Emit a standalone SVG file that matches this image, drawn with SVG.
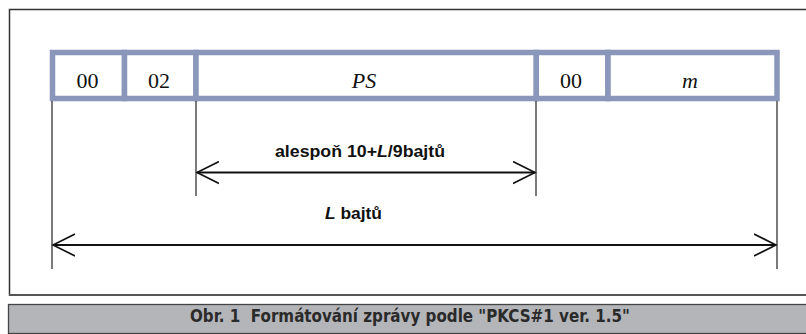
<svg xmlns="http://www.w3.org/2000/svg" width="806" height="334" viewBox="0 0 806 334">
  <defs>
    <style>
      .frame { fill: #ffffff; stroke: #333333; stroke-width: 1.5; }
      .cell { fill: #ffffff; stroke: #8a96ba; stroke-width: 5.5; }
      .tick { stroke: #222222; stroke-width: 1.2; fill: none; }
      .dim { stroke: #111111; stroke-width: 2; fill: none; }
      .val { font-family: "Liberation Serif", "Times New Roman", serif; font-size: 22px; fill: #111111; text-anchor: middle; }
      .lbl { font-family: "Liberation Sans", Arial, sans-serif; font-size: 16px; font-weight: bold; fill: #111111; }
      .cap { font-family: "Liberation Sans Narrow", "DejaVu Sans Condensed", "Liberation Sans", sans-serif; font-size: 17.5px; font-weight: bold; fill: #2a2a2a; }
    </style>
    <marker id="open" viewBox="0 0 24 24" refX="22" refY="12" markerWidth="24" markerHeight="24" markerUnits="userSpaceOnUse" orient="auto-start-reverse">
      <path d="M0,1 L22,12 L0,23" fill="none" stroke="#111111" stroke-width="1.6"/>
    </marker>
  </defs>

  <!-- outer frame, open on the right -->
  <path d="M810,9.5 L9.5,9.5 L9.5,295 L810,295" class="frame"/>
  <line x1="9" y1="295" x2="810" y2="295" stroke="#555555" stroke-width="2"/>

  <!-- message byte layout -->
  <g id="block-00a">
    <rect x="52.5" y="52.5" width="72" height="46" class="cell"/>
    <text x="87.5" y="87.5" class="val">00</text>
  </g>
  <g id="block-02">
    <rect x="124.5" y="52.5" width="71.5" height="46" class="cell"/>
    <text x="159" y="87.5" class="val">02</text>
  </g>
  <g id="block-ps">
    <rect x="196" y="52.5" width="340.3" height="46" class="cell"/>
    <text x="364" y="87.5" class="val" font-style="italic">PS</text>
  </g>
  <g id="block-00b">
    <rect x="536.3" y="52.5" width="71.7" height="46" class="cell"/>
    <text x="571" y="87.5" class="val">00</text>
  </g>
  <g id="block-m">
    <rect x="608" y="52.5" width="169" height="46" class="cell"/>
    <text x="690" y="87.5" class="val" font-style="italic">m</text>
  </g>

  <!-- dimension lines -->
  <g id="connectors">
    <line x1="52" y1="101" x2="52" y2="269" class="tick"/>
    <line x1="196" y1="101" x2="196" y2="196" class="tick"/>
    <line x1="536" y1="101" x2="536" y2="196" class="tick"/>
    <line x1="777" y1="101" x2="777" y2="269" class="tick"/>
    <line x1="197" y1="172.5" x2="535" y2="172.5" class="dim" marker-start="url(#open)" marker-end="url(#open)"/>
    <line x1="53" y1="245" x2="776" y2="245" class="dim" marker-start="url(#open)" marker-end="url(#open)"/>
  </g>

  <g id="label-ps-length">
    <text x="275" y="157" class="lbl" textLength="170" lengthAdjust="spacingAndGlyphs">alespoň 10+<tspan font-style="italic">L</tspan>/9bajtů</text>
  </g>
  <g id="label-total-length">
    <text x="325" y="219" class="lbl" textLength="57" lengthAdjust="spacingAndGlyphs"><tspan font-style="italic">L</tspan> bajtů</text>
  </g>

  <!-- caption bar -->
  <g id="caption">
    <rect x="8.5" y="304.5" width="810" height="29" fill="#b4b5b9" stroke="#444444" stroke-width="1.3"/>
    <text x="190" y="322" class="cap" textLength="440" lengthAdjust="spacingAndGlyphs">Obr. 1 &#160;Formátování zprávy podle "PKCS#1 ver. 1.5"</text>
  </g>
</svg>
